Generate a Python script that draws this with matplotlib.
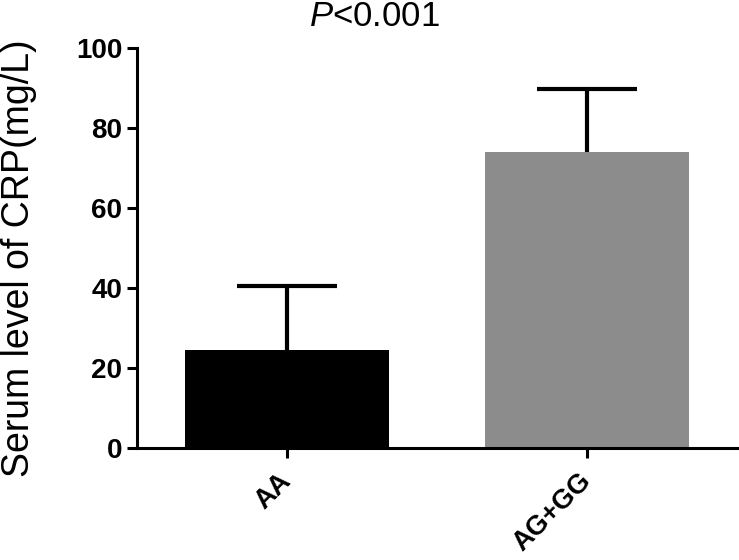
import matplotlib
matplotlib.use("Agg")
import matplotlib.pyplot as plt

categories = ["AA", "AG+GG"]
means = [24.5, 74.0]
sd_upper = [16.0, 15.75]
colors = ["#000000", "#8c8c8c"]
yticks = [0, 20, 40, 60, 80, 100]

plt.rcParams['font.family'] = ['Liberation Sans', 'DejaVu Sans']
plt.rcParams['mathtext.fontset'] = 'custom'
plt.rcParams['mathtext.rm'] = 'Liberation Sans'
plt.rcParams['mathtext.it'] = 'Liberation Sans:italic'

fig = plt.figure(figsize=(7.39, 5.6), dpi=100)
ax = fig.add_axes([137/739, 1-448/560, 600/739, 400/560])

x = list(range(len(categories)))
ax.bar(x, means, width=0.683, color=colors, zorder=2)
eb = ax.errorbar(x, means, yerr=[[0]*len(means), sd_upper], fmt='none', ecolor='black',
                 elinewidth=3, capsize=36, capthick=3, zorder=1)
eb[1][0].set_visible(False)

ax.set_xlim(-0.5, 1.5)
ax.set_ylim(0, 100)
ax.set_yticks(yticks)
ax.set_xticks(x)
ax.set_xticklabels(categories, rotation=45, ha='right', va='center', rotation_mode='anchor',
                   fontsize=19.5, fontweight='bold')
for lbl in ax.get_yticklabels():
    lbl.set_fontweight('bold')
    lbl.set_fontsize(20)

for s in ['top', 'right']:
    ax.spines[s].set_visible(False)
for s in ['left', 'bottom']:
    ax.spines[s].set_linewidth(2.2)
ax.tick_params(axis='both', width=2.2, length=7, pad=3.5)
ax.tick_params(axis='x', length=7, pad=14)

ax.set_ylabel("Serum level of CRP(mg/L)", fontsize=27)
ax.yaxis.set_label_coords(-0.167, 0.475)

fig.text(374/739, 1-16/560, r"$\it{P}$<0.001", fontsize=25, ha='center', va='center')

fig.savefig("out.png", dpi=100)
